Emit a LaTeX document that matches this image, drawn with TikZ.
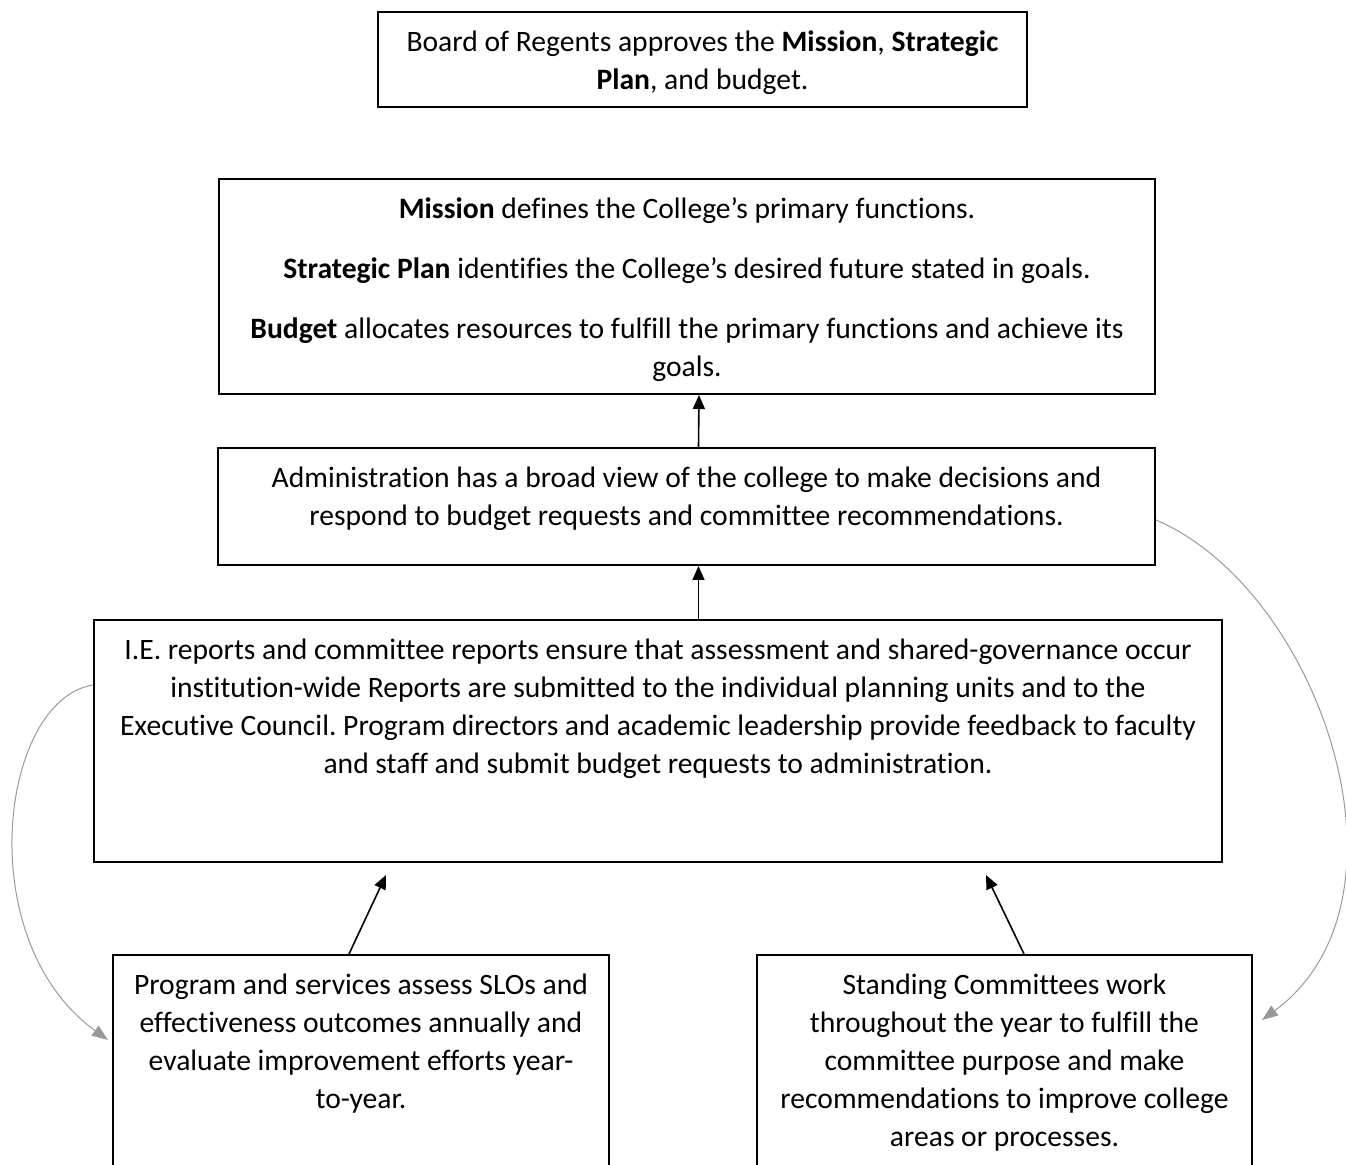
\documentclass[tikz,border=0pt]{standalone}
\usepackage{fontspec}
\setmainfont[Ligatures={NoCommon,NoRequired,NoContextual}]{Carlito}
\usetikzlibrary{arrows.meta}

\tikzset{
  plainbox/.style={draw, line width=1pt, inner sep=0pt},
  upline/.style={-{Triangle[length=7pt,width=6pt]}, line width=0.8pt},
  loopline/.style={-{Triangle[length=8pt,width=6pt]}, draw=black!40, line width=0.5pt},
}
\newcommand{\boxtext}[3]{\parbox[c][#2][t]{#1}{\centering\frenchspacing\fontsize{14.8}{19}\selectfont\vspace*{6.5pt}\strut #3\par}}

\begin{document}
\begin{tikzpicture}[x=0.5pt,y=-0.5pt]
  \useasboundingbox (0,0) rectangle (1346,1165);

  % boxes
  \node[plainbox] (board) at (702.5,59.5)
    {\boxtext{324.5pt}{47.5pt}{Board of Regents approves the \textbf{Mission}, \textbf{Strategic}\\ \textbf{Plan}, and budget.}};
  \node[plainbox] (mission) at (687,286.5)
    {\boxtext{468pt}{107.5pt}{\textbf{Mission} defines the College’s primary functions.\\[11pt]
     \textbf{Strategic Plan} identifies the College’s desired future stated in goals.\\[11pt]
     \textbf{Budget} allocates resources to fulfill the primary functions and achieve its\\ goals.}};
  \node[plainbox] (admin) at (686.5,506.5)
    {\boxtext{468.5pt}{58.5pt}{Administration has a broad view of the college to make decisions and\\ respond to budget requests and committee recommendations.}};
  \node[plainbox] (ie) at (658,741)
    {\boxtext{564pt}{121pt}{I.E. reports and committee reports ensure that assessment and shared-governance occur\\
     institution-wide Reports are submitted to the individual planning units and to the\\
     Executive Council. Program directors and academic leadership provide feedback to faculty\\
     and staff and submit budget requests to administration.}};
  \node[plainbox] (prog) at (361,1070)
    {\boxtext{248pt}{115pt}{Program and services assess SLOs and\\ effectiveness outcomes annually and\\ evaluate improvement efforts year-\\ to-year.}};
  \node[plainbox] (cmte) at (1004.5,1070)
    {\boxtext{247.5pt}{115pt}{Standing Committees work\\ throughout the year to fulfill the\\ committee purpose and make\\ recommendations to improve college\\ areas or processes.}};

  % free ends
  \coordinate (progtip) at (386,875);
  \coordinate (cmtetip) at (986,875);
  \coordinate (progin) at (108,1040);
  \coordinate (cmtein) at (1262,1020);

  % upward arrows
  \draw[upline] ([xshift=6pt]admin.north) -- ([xshift=6pt]mission.south);
  \draw[upline] ([xshift=6pt]admin.south |- ie.north) -- ([xshift=6pt]admin.south);
  \draw[upline] ([xshift=-6pt]prog.north) -- (progtip);
  \draw[upline] ([xshift=9.75pt]cmte.north) -- (cmtetip);

  % grey loops
  \draw[loopline] ([yshift=28pt]ie.west) .. controls (0,700) and (-30,940) .. (progin);
  \draw[loopline] ([yshift=-6.75pt]admin.east) .. controls (1320,590) and (1425,900) .. (cmtein);
\end{tikzpicture}
\end{document}
